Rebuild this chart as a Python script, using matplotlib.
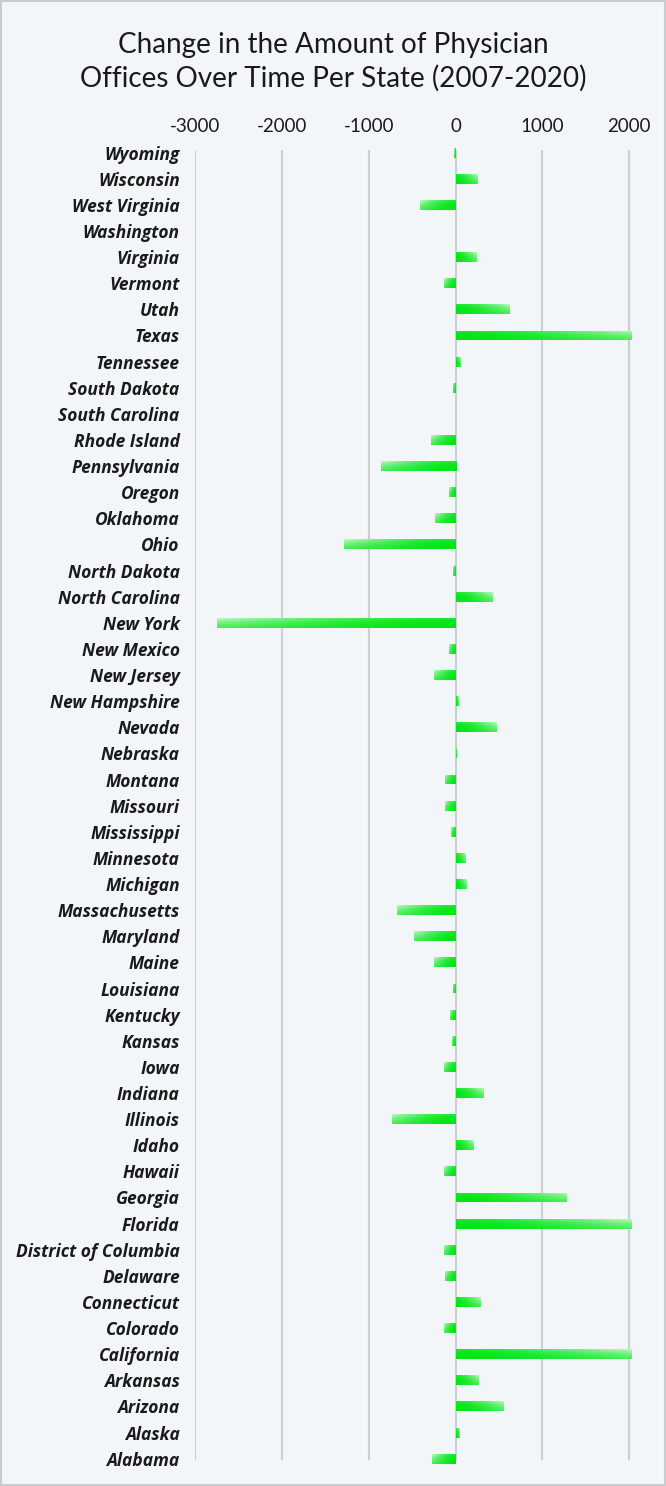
import numpy as np
import matplotlib
matplotlib.use('Agg')
import matplotlib.pyplot as plt

# states from bottom (Alabama) to top (Wyoming)
states = ['Alabama', 'Alaska', 'Arizona', 'Arkansas', 'California', 'Colorado',
          'Connecticut', 'Delaware', 'District of Columbia', 'Florida', 'Georgia',
          'Hawaii', 'Idaho', 'Illinois', 'Indiana', 'Iowa', 'Kansas', 'Kentucky',
          'Louisiana', 'Maine', 'Maryland', 'Massachusetts', 'Michigan', 'Minnesota',
          'Mississippi', 'Missouri', 'Montana', 'Nebraska', 'Nevada', 'New Hampshire',
          'New Jersey', 'New Mexico', 'New York', 'North Carolina', 'North Dakota',
          'Ohio', 'Oklahoma', 'Oregon', 'Pennsylvania', 'Rhode Island',
          'South Carolina', 'South Dakota', 'Tennessee', 'Texas', 'Utah', 'Vermont',
          'Virginia', 'Washington', 'West Virginia', 'Wisconsin', 'Wyoming']
# change in offices 2007-2020 (big ones are cut off at the right edge)
change = [-267, 46, 543, 264, 2020, -134,
          279, -118, -134, 2020, 1276,
          -130, 205, -734, 313, -134, -46, -61,
          -31, -245, -478, -676, 126, 111,
          -50, -118, -122, 10, 462, 31,
          -245, -73, -2747, 424, -27,
          -1288, -241, -76, -864, -279,
          0, -27, 57, 2020, 615, -130,
          233, 0, -409, 248, -20]
xticks = [-3000, -2000, -1000, 0, 1000, 2000]

bg = '#f3f6f8'
green = np.array([0.0, 0.90, 0.08])

plt.rcParams['font.family'] = ['Lato', 'DejaVu Sans']

fig = plt.figure(figsize=(6.66, 14.86), dpi=100, facecolor=bg)
ax = fig.add_axes([195 / 666, 1 - 1460 / 1486, (631 - 195) / 666, (1460 - 150) / 1486])
ax.set_facecolor(bg)

ypos = np.arange(len(states))
h = 0.38
bars = ax.barh(ypos, change, height=h, color=green, zorder=3, clip_on=False)

# gradient: solid green at zero, whiter towards the bar end and top edge
nx, ny = 64, 16
s = np.linspace(0, 1, nx)[None, :]
v = np.linspace(0, 1, ny)[:, None]
t = 0.62 * s ** 1.6 * (0.45 + 0.55 * v) + 0.12 * v ** 3
img = green[None, None, :] * (1 - t[..., None]) + t[..., None]
img = np.clip(img, 0, 1)
for b, y, val in zip(bars, ypos, change):
    if val == 0:
        continue
    im = ax.imshow(img, extent=(0, val, y - h / 2, y + h / 2), origin='lower',
                   aspect='auto', zorder=4, interpolation='bilinear')
    im.set_clip_path(b)

ax.set_xlim(-3000, 2020)
ax.set_ylim(-0.05, 50.1)

ax.set_xticks(xticks)
ax.set_xticklabels([str(x) for x in xticks], fontsize=13.5, color='#1a1a1a')
ax.xaxis.tick_top()
ax.tick_params(axis='x', length=0, pad=11)
ax.set_yticks(ypos)
ax.set_yticklabels(states, fontsize=12.5, fontweight='bold', fontstyle='italic',
                   family=['Open Sans', 'DejaVu Sans'], color='#1a1a1a')
ax.tick_params(axis='y', length=0, pad=11)
ax.grid(axis='x', color='#c9d0d2', linewidth=1.5, zorder=0)
ax.set_axisbelow(True)
for sp in ax.spines.values():
    sp.set_visible(False)

fig.text(0.5, 1 - 45 / 1486, 'Change in the Amount of Physician', ha='center', va='center',
         fontsize=20.1, color='#1a1a1a')
fig.text(0.5, 1 - 78 / 1486, 'Offices Over Time Per State (2007-2020)', ha='center', va='center',
         fontsize=20.1, color='#1a1a1a')

# thin frame round the chart
fig.patches.append(plt.Rectangle((0.0015, 0.001), 0.997, 0.998, transform=fig.transFigure,
                                 fill=False, edgecolor='#c5cdd0', linewidth=1.5))

fig.savefig('out.png', dpi=100, facecolor=bg)
